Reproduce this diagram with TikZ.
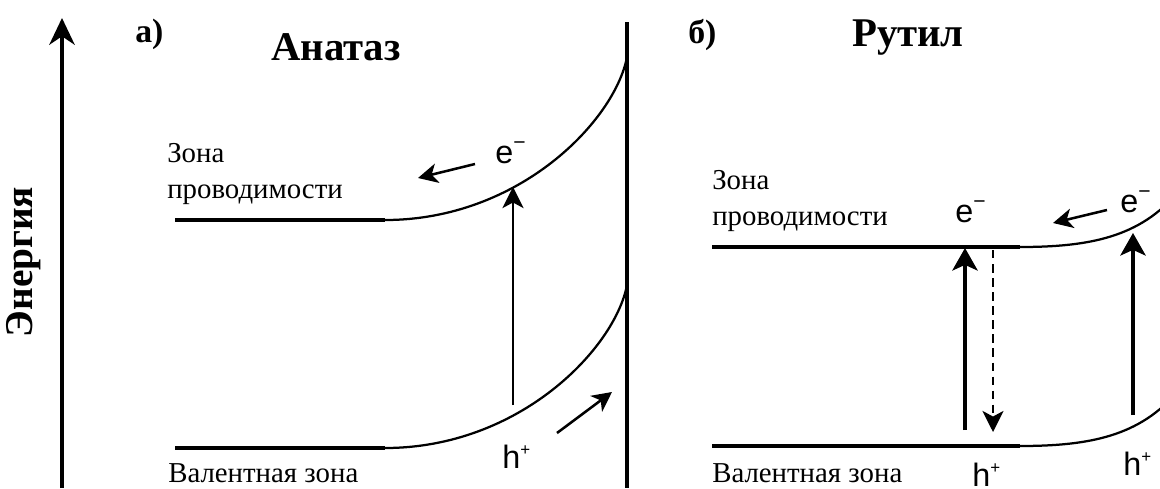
\documentclass[tikz,border=0pt]{standalone}
\usepackage{fontspec}
\setmainfont{Liberation Serif}
\newfontfamily\carrierfont{Liberation Sans}
\usetikzlibrary{arrows.meta}

\begin{document}
\begin{tikzpicture}[x=0.025cm, y=-0.025cm,
    axis/.style={line width=2.8pt},
    band/.style={line width=2.4pt},
    bandcurve/.style={line width=1.6pt},
    jump/.style={line width=1.8pt, -{Stealth[length=15pt,width=15pt,inset=4pt]}},
    jumpb/.style={line width=2.5pt, -{Stealth[length=16pt,width=18pt,inset=4pt]}},
    drift/.style={line width=1.8pt, -{Stealth[length=14pt,width=14pt,inset=4pt]}},
    zonelabel/.style={font=\fontsize{20.5}{25.6}\selectfont, align=left, anchor=north west, inner sep=0pt},
    title/.style={font=\fontsize{29}{29}\selectfont\bfseries, anchor=base, inner sep=0pt},
    panel/.style={font=\fontsize{24}{24}\selectfont\bfseries, anchor=base west, inner sep=0pt},
    carrier/.style={font=\carrierfont\fontsize{23}{23}\selectfont, anchor=base west, inner sep=0pt}]

    \useasboundingbox (0,0) rectangle (1160,488);
    \clip (0,0) rectangle (1160,488);

    % energy axis
    \coordinate (axisbot) at (62,488);
    \coordinate (axistop) at (62,18);
    \draw[axis, -{Stealth[length=19pt,width=18pt,inset=6pt]}] (axisbot) -- (axistop);
    \node[rotate=90, font=\fontsize{28}{28}\selectfont\bfseries] (energy) at (24,262) {Энергия};

    % a) anatase
    \node[panel] (panelA) at (135,42) {а)};
    \node[title] (titleA) at (336,60) {Анатаз};
    \coordinate (walltop) at (627,22);
    \coordinate (wallbot) at (627,488);
    \draw[axis] (walltop) -- (wallbot);

    \draw[band] (175,220) -- (385,220);
    \draw[bandcurve] (385,220) .. controls (520,220) and (615,120) .. (627,57);
    \draw[band] (175,448) -- (385,448);
    \draw[bandcurve] (385,448) .. controls (520,448) and (615,348) .. (627,285);

    \node[zonelabel] (cbA) at (167,143) {Зона\\проводимости};
    \node[anchor=base west, inner sep=0pt, font=\fontsize{20.5}{25.6}\selectfont] (vbA) at (168,482) {Валентная зона};

    \coordinate (vbA1) at (513,405);
    \coordinate (cbA1) at (513,187);
    \draw[jump] (vbA1) -- (cbA1);
    \node[carrier] (eA) at (495,163) {e\raisebox{0.42em}{\fontsize{15}{15}\selectfont −}};
    \coordinate (eAfrom) at (475,164);
    \coordinate (eAto) at (418,178);
    \draw[drift] (eAfrom) -- (eAto);
    \node[carrier] (hA) at (502,468) {h\raisebox{0.38em}{\fontsize{12}{12}\selectfont +}};
    \coordinate (hAfrom) at (557,433);
    \coordinate (hAto) at (612,392);
    \draw[drift] (hAfrom) -- (hAto);

    % b) rutile
    \node[panel] (panelB) at (688,43) {б)};
    \node[title] (titleB) at (908,46) {Рутил};

    \draw[band] (712,247) -- (1020,247);
    \draw[bandcurve] (1020,247) .. controls (1090,247) and (1140,237) .. (1178,192);
    \draw[band] (712,446) -- (1020,446);
    \draw[bandcurve] (1020,446) .. controls (1090,446) and (1140,436) .. (1178,391);

    \node[zonelabel] (cbB) at (712,170) {Зона\\проводимости};
    \node[anchor=base west, inner sep=0pt, font=\fontsize{20.5}{25.6}\selectfont] (vbB) at (712,482) {Валентная зона};

    \coordinate (vbB1) at (965,430);
    \coordinate (cbB1) at (965,248);
    \draw[jumpb] (vbB1) -- (cbB1);
    \coordinate (cbB2) at (993,250);
    \coordinate (vbB2) at (993,432);
    \draw[line width=1.5pt, dash pattern=on 6pt off 4pt, -{Stealth[length=15pt,width=15pt,inset=4pt]}] (cbB2) -- (vbB2);
    \coordinate (vbB3) at (1133,415);
    \coordinate (cbB3) at (1133,233);
    \draw[jumpb] (vbB3) -- (cbB3);

    \node[carrier] (eB1) at (955,222) {e\raisebox{0.42em}{\fontsize{15}{15}\selectfont −}};
    \node[carrier] (eB2) at (1120,212) {e\raisebox{0.42em}{\fontsize{15}{15}\selectfont −}};
    \coordinate (eBfrom) at (1107,210);
    \coordinate (eBto) at (1053,223);
    \draw[drift] (eBfrom) -- (eBto);
    \node[carrier] (hB1) at (972,486) {h\raisebox{0.38em}{\fontsize{12}{12}\selectfont +}};
    \node[carrier] (hB2) at (1123,475) {h\raisebox{0.38em}{\fontsize{12}{12}\selectfont +}};
\end{tikzpicture}
\end{document}
